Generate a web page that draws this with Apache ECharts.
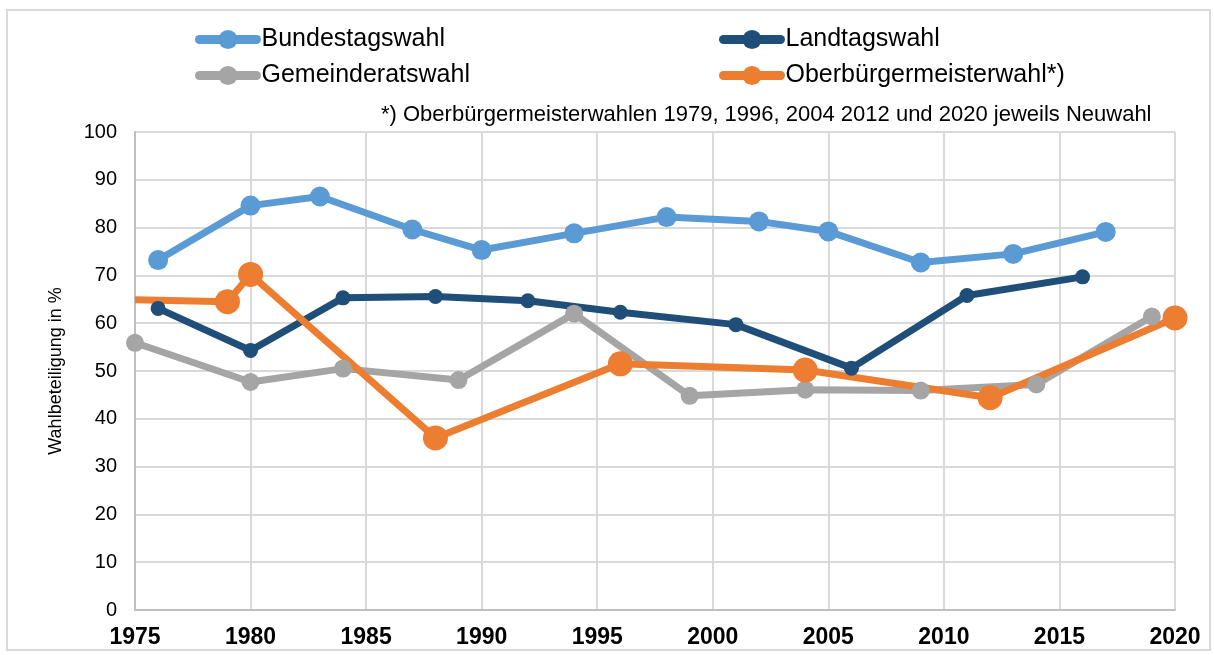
<!DOCTYPE html>
<html>
<head>
<meta charset="utf-8">
<script src="https://cdn.jsdelivr.net/npm/echarts@6/dist/echarts.min.js"></script>
<style>
  html, body { margin: 0; padding: 0; background: #fff; }
  #chart { width: 1214px; height: 655px; }
</style>
</head>
<body>
<div id="chart"></div>
<script>
// Wahlbeteiligung in % nach Wahljahr
const bundYears = [1976, 1980, 1983, 1987, 1990, 1994, 1998, 2002, 2005, 2009, 2013, 2017];
const bundValues = [73.2, 84.6, 86.5, 79.6, 75.3, 78.8, 82.2, 81.3, 79.2, 72.7, 74.5, 79.1];

const landYears = [1976, 1980, 1984, 1988, 1992, 1996, 2001, 2006, 2011, 2016];
const landValues = [63.1, 54.3, 65.3, 65.6, 64.7, 62.3, 59.7, 50.6, 65.8, 69.7];

const gemYears = [1975, 1980, 1984, 1989, 1994, 1999, 2004, 2009, 2014, 2019];
const gemValues = [55.9, 47.7, 50.5, 48.1, 62.0, 44.8, 46.1, 45.9, 47.2, 61.4];

const obYears = [1975, 1979, 1980, 1988, 1996, 2004, 2012, 2020];
const obValues = [64.9, 64.5, 70.2, 36.0, 51.5, 50.2, 44.4, 61.1];

const xTicks = { min: 1975, max: 2020, step: 5 };
const yTicks = { min: 0, max: 100, step: 10 };

function pairs(years, values) {
  return years.map((y, i) => [y, values[i]]);
}

const chart = echarts.init(document.getElementById('chart'));

const font = 'Liberation Sans, Arial, sans-serif';

// OB-Linie beginnt 1975 ohne Marker
const obData = pairs(obYears, obValues).map((p, i) =>
  i === 0 ? { value: p, symbolSize: 0 } : p
);

function lineSeries(name, color, data, size) {
  return {
    name: name,
    type: 'line',
    data: data,
    symbol: 'circle',
    symbolSize: size,
    showAllSymbol: true,
    lineStyle: { color: color, width: 7 },
    itemStyle: { color: color },
    emphasis: { disabled: true }
  };
}

function legendBlock(names, left) {
  return {
    data: names,
    orient: 'vertical',
    left: left,
    top: 27,
    padding: 0,
    itemWidth: 57,
    itemHeight: 24,
    itemGap: 11,
    lineStyle: { width: 9, cap: 'round' },
    textStyle: { fontSize: 25, color: '#000', fontFamily: font }
  };
}

chart.setOption({
  animation: false,
  textStyle: { fontFamily: font },
  graphic: [{
    type: 'rect',
    shape: { x: 7, y: 10, width: 1203, height: 640 },
    style: { fill: 'none', stroke: '#d9d9d9', lineWidth: 2 }
  }, {
    type: 'text',
    left: 381,
    top: 104,
    style: {
      text: '*) Oberbürgermeisterwahlen 1979, 1996, 2004 2012 und 2020 jeweils Neuwahl',
      font: '22px Liberation Sans, Arial, sans-serif',
      fill: '#000'
    }
  }],
  legend: [
    legendBlock(['Bundestagswahl', 'Gemeinderatswahl'], 195),
    legendBlock(['Landtagswahl', 'Oberbürgermeisterwahl*)'], 719)
  ],
  grid: { left: 135, right: 39, top: 132, bottom: 45 },
  xAxis: {
    type: 'value',
    min: xTicks.min,
    max: xTicks.max,
    interval: xTicks.step,
    axisLine: { lineStyle: { color: '#bfbfbf', width: 2 } },
    axisTick: { show: false },
    splitLine: { show: true, lineStyle: { color: '#d9d9d9', width: 2 } },
    axisLabel: {
      formatter: v => String(v),
      fontSize: 23,
      fontWeight: 'bold',
      color: '#000',
      margin: 16
    }
  },
  yAxis: {
    type: 'value',
    min: yTicks.min,
    max: yTicks.max,
    interval: yTicks.step,
    name: 'Wahlbeteiligung in %',
    nameLocation: 'middle',
    nameGap: 70,
    nameTextStyle: { fontSize: 18, color: '#000' },
    axisLine: { show: true, lineStyle: { color: '#bfbfbf', width: 2 } },
    axisTick: { show: false },
    splitLine: { lineStyle: { color: '#d9d9d9', width: 2 } },
    axisLabel: { fontSize: 20, color: '#000', margin: 18 }
  },
  series: [
    lineSeries('Bundestagswahl', '#5b9bd5', pairs(bundYears, bundValues), 20),
    lineSeries('Landtagswahl', '#1f4e79', pairs(landYears, landValues), 15),
    lineSeries('Gemeinderatswahl', '#a5a5a5', pairs(gemYears, gemValues), 18),
    lineSeries('Oberbürgermeisterwahl*)', '#ed7d31', obData, 25)
  ]
});
</script>
</body>
</html>
